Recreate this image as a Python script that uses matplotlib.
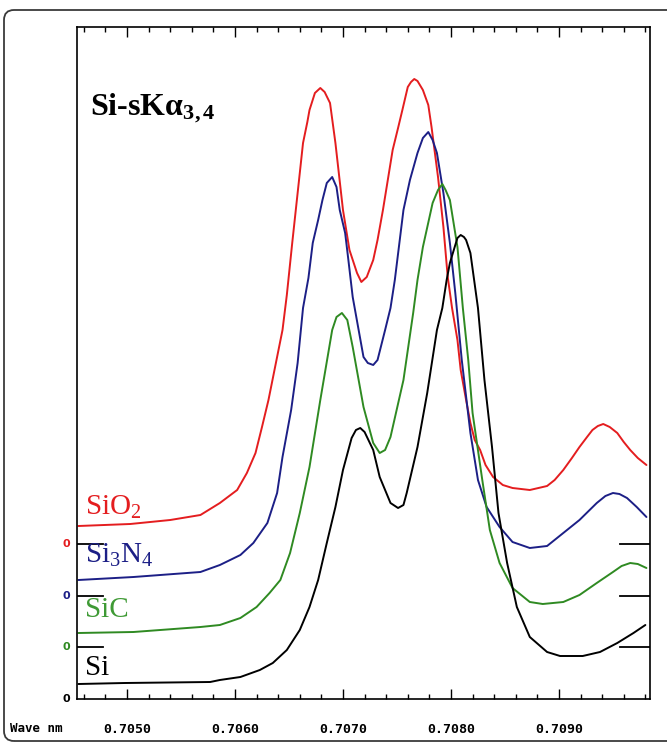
import matplotlib
matplotlib.use("Agg")
import matplotlib.pyplot as plt
from matplotlib.ticker import MultipleLocator, FormatStrFormatter
from matplotlib.patches import FancyBboxPatch

plt.rcParams['mathtext.fontset'] = 'custom'
plt.rcParams['mathtext.rm'] = 'Liberation Serif'
plt.rcParams['mathtext.it'] = 'Liberation Serif:italic'
plt.rcParams['mathtext.bf'] = 'Liberation Serif:bold'

# ---- data (wavelength in nm, intensity above each trace's own zero) ----
sio2_wl = [0.70455, 0.70503, 0.70540, 0.70568, 0.70586, 0.70602, 0.70611, 0.70619, 0.70625,
           0.70631, 0.70644, 0.70648, 0.70653, 0.70658, 0.70663, 0.70667, 0.70669, 0.70674,
           0.70679, 0.70683, 0.70688, 0.70693, 0.70700, 0.70706, 0.70713, 0.70717, 0.70722,
           0.70728, 0.70732, 0.70737, 0.70746, 0.70751, 0.70755, 0.70760, 0.70763, 0.70766,
           0.70769, 0.70774, 0.70779, 0.70782, 0.70788, 0.70793, 0.70797, 0.70801, 0.70806,
           0.70809, 0.70814, 0.70818, 0.70822, 0.70827, 0.70832, 0.70839, 0.70848, 0.70857,
           0.70873, 0.70889, 0.70896, 0.70904, 0.70912, 0.70919, 0.70926, 0.70931, 0.70936,
           0.70941, 0.70947, 0.70954, 0.70960, 0.70966, 0.70973, 0.70981]
sio2_int = [18, 20, 24, 29, 41, 54, 71, 91, 117,
            144, 214, 249, 301, 351, 401, 422, 434, 451,
            456, 452, 441, 401, 334, 294, 271, 262, 267,
            284, 304, 334, 394, 416, 434, 457, 462, 465,
            463, 454, 439, 417, 367, 317, 267, 236, 204,
            174, 144, 121, 104, 94, 79, 67, 59, 56,
            54, 58, 64, 74, 86, 97, 107, 114, 118,
            120, 117, 111, 102, 94, 86, 79]

si3n4_wl = [0.70455, 0.70506, 0.70568, 0.70586, 0.70605, 0.70617, 0.70630, 0.70639, 0.70644,
            0.70652, 0.70658, 0.70663, 0.70668, 0.70672, 0.70677, 0.70681, 0.70685, 0.70690,
            0.70694, 0.70697, 0.70702, 0.70705, 0.70709, 0.70719, 0.70723, 0.70728, 0.70732,
            0.70739, 0.70744, 0.70748, 0.70756, 0.70762, 0.70769, 0.70774, 0.70779, 0.70783,
            0.70787, 0.70793, 0.70799, 0.70804, 0.70810, 0.70818, 0.70825, 0.70833, 0.70845,
            0.70857, 0.70873, 0.70889, 0.70904, 0.70919, 0.70935, 0.70943, 0.70950, 0.70956,
            0.70963, 0.70972, 0.70981]
si3n4_int = [16, 19, 24, 31, 41, 53, 73, 103, 139,
             186, 233, 288, 318, 353, 376, 396, 413, 419,
             409, 386, 363, 336, 299, 239, 233, 231, 236,
             266, 288, 316, 386, 416, 443, 458, 464, 456,
             443, 403, 353, 303, 236, 163, 116, 89, 69,
             54, 48, 50, 63, 76, 93, 100, 103, 102,
             98, 89, 79]

sic_wl = [0.70455, 0.70506, 0.70568, 0.70586, 0.70605, 0.70620, 0.70632, 0.70642, 0.70651,
          0.70660, 0.70669, 0.70679, 0.70690, 0.70694, 0.70699, 0.70704, 0.70709, 0.70719,
          0.70728, 0.70734, 0.70739, 0.70744, 0.70756, 0.70765, 0.70769, 0.70774, 0.70783,
          0.70788, 0.70792, 0.70795, 0.70799, 0.70806, 0.70811, 0.70816, 0.70820, 0.70829,
          0.70836, 0.70845, 0.70857, 0.70873, 0.70885, 0.70904, 0.70919, 0.70935, 0.70950,
          0.70958, 0.70966, 0.70973, 0.70981]
sic_int = [14, 15, 20, 22, 29, 40, 54, 67, 94,
           134, 180, 247, 317, 330, 334, 327, 300, 240,
           204, 194, 197, 210, 267, 334, 367, 400, 444,
           457, 463, 457, 447, 400, 339, 287, 234, 167,
           117, 84, 59, 45, 43, 45, 52, 64, 75,
           81, 84, 83, 79]

si_wl = [0.70455, 0.70498, 0.70577, 0.70586, 0.70605, 0.70623, 0.70635, 0.70648, 0.70660,
         0.70669, 0.70677, 0.70685, 0.70693, 0.70700, 0.70708, 0.70712, 0.70716, 0.70720,
         0.70728, 0.70734, 0.70744, 0.70751, 0.70756, 0.70759, 0.70769, 0.70778, 0.70787,
         0.70792, 0.70796, 0.70799, 0.70804, 0.70806, 0.70809, 0.70812, 0.70814, 0.70818,
         0.70825, 0.70831, 0.70838, 0.70844, 0.70852, 0.70861, 0.70873, 0.70889, 0.70901,
         0.70922, 0.70938, 0.70954, 0.70969, 0.70980]
si_int = [15, 16, 17, 19, 22, 29, 36, 49, 69,
          92, 119, 156, 192, 229, 261, 269, 271, 267,
          249, 222, 196, 191, 194, 206, 252, 306, 369,
          391, 419, 436, 454, 461, 464, 462, 459, 446,
          391, 319, 252, 186, 136, 92, 62, 47, 43,
          43, 47, 56, 66, 74]

names = ['SiO$_2$', 'Si$_3$N$_4$', 'SiC', 'Si']
offsets = [155, 103, 52, 0]
colors = ['#e41d1f', '#1c1f86', '#2f8a22', '#000000']
label_colors = ['#e41d1f', '#1c1f86', '#3f9a35', '#000000']
series = [(sio2_wl, sio2_int), (si3n4_wl, si3n4_int), (sic_wl, sic_int), (si_wl, si_int)]
label_base = [184, 136, 82, 24]

major_ticks = [0.7050, 0.7060, 0.7070, 0.7080, 0.7090]

# ---- figure ----
W, H = 667, 745
fig = plt.figure(figsize=(W / 100, H / 100), dpi=100)
L, R, T, B = 77, 650, 27, 699
ax = fig.add_axes([L / W, 1 - B / H, (R - L) / W, (B - T) / H])

for (x, y), off, c in zip(series, offsets, colors):
    ax.plot(x, [v + off for v in y], color=c, lw=1.4, solid_joinstyle='round',
            solid_capstyle='round')

ax.set_xlim(0.704537, 0.709843)
ax.set_ylim(0, 672)

# zero markers
for off, c in zip(offsets, colors):
    if off > 0:
        ax.axhline(off, xmin=0, xmax=26 / (R - L), color='black', lw=1.3)
        ax.axhline(off, xmin=1 - 30 / (R - L), xmax=1, color='black', lw=1.3)
    ax.annotate('0', xy=(0, off), xycoords=('axes fraction', 'data'),
                xytext=(-5, 0), textcoords='offset points', ha='right', va='center',
                color=c, fontsize=8, fontweight='bold', family='DejaVu Sans')

# trace labels
for name, yb, c in zip(names, label_base, label_colors):
    ax.text(0.70461, yb, name, color=c, fontsize=21, family='Liberation Serif',
            ha='left', va='baseline')

ax.text(0.70466, 584, r'Si-sKα$_{\mathbf{3,4}}$', fontsize=23, fontweight='bold',
        family='Liberation Serif', ha='left', va='baseline', color='black')

# ticks
ax.xaxis.set_minor_locator(MultipleLocator(0.0002))
ax.set_xticks(major_ticks)
ax.xaxis.set_major_formatter(FormatStrFormatter('%.4f'))
ax.tick_params(axis='x', which='major', direction='in', length=7.5, width=1.0,
               top=True, pad=17)
ax.tick_params(axis='x', which='minor', direction='in', length=3.8, width=1.0, top=True)
ax.tick_params(axis='y', left=False, right=False, labelleft=False)
for lab in ax.get_xticklabels():
    lab.set_family('DejaVu Sans Mono')
    lab.set_fontweight('bold')
    lab.set_fontsize(9.5)
for s in ax.spines.values():
    s.set_linewidth(1.2)

fig.text(10 / W, 1 - 728 / H, 'Wave nm', family='DejaVu Sans Mono', fontweight='bold',
         fontsize=9, ha='left', va='center')

# scanned page border
border = FancyBboxPatch((0.04, 0.04), 6.75, 7.31,
                        boxstyle='round,pad=0,rounding_size=0.1',
                        transform=fig.dpi_scale_trans, fill=False,
                        edgecolor='#3a3a3a', lw=1.3)
fig.patches.append(border)

fig.savefig('out.png', dpi=100)
